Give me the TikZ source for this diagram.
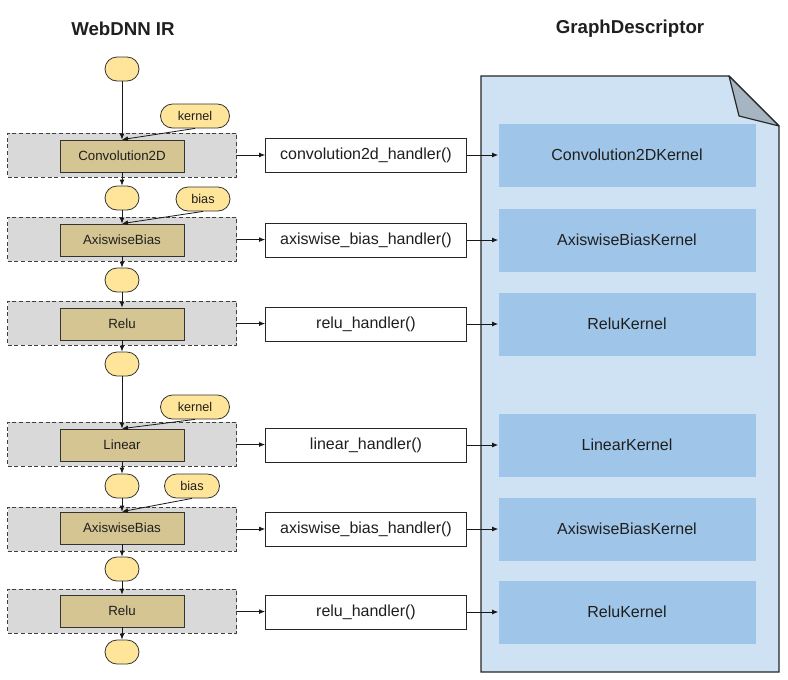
\documentclass[tikz,border=0pt]{standalone}
\usepackage{fontspec}
\setmainfont{Liberation Sans}
\usetikzlibrary{arrows.meta}

\definecolor{tensoryellow}{HTML}{FFE599}
\definecolor{optan}{HTML}{D5C592}
\definecolor{groupgray}{HTML}{D9D9D9}
\definecolor{docblue}{HTML}{CFE2F3}
\definecolor{kernelblue}{HTML}{9FC5E8}
\definecolor{foldgray}{HTML}{A7B5C3}

\begin{document}
\begin{tikzpicture}[x=0.75pt,y=-0.75pt,
  every node/.style={inner sep=0pt, text=black!88},
  title/.style={font=\fontsize{14}{16}\selectfont\bfseries},
  opgroup/.style={draw=black!75, dash pattern=on 3pt off 2pt, line width=0.6pt,
    fill=groupgray, minimum width=171.75pt, minimum height=33pt},
  opbox/.style={draw=black!80, line width=0.6pt, fill=optan,
    minimum width=93pt, minimum height=24pt, font=\fontsize{10}{12}\selectfont},
  tensor/.style={draw=black!80, line width=0.6pt, fill=tensoryellow,
    rounded corners=9pt, minimum width=25.5pt, minimum height=18pt},
  param/.style={draw=black!80, line width=0.6pt, fill=tensoryellow,
    rounded corners=9pt, minimum height=18pt, font=\fontsize{9.5}{11}\selectfont},
  handler/.style={draw=black!85, line width=0.6pt, fill=white,
    minimum width=150.75pt, minimum height=25.5pt, font=\fontsize{12}{14}\selectfont},
  kernel/.style={fill=kernelblue, minimum width=192.75pt, minimum height=47.25pt,
    font=\fontsize{12}{14}\selectfont},
  flow/.style={draw=black!90, line width=0.6pt, -{Latex[length=4.5pt,width=3.6pt]}}]
  \useasboundingbox (0,0) rectangle (788,679);

  % graph descriptor page
  \draw[fill=docblue, draw=black!85, line width=0.9pt]
    (481,76) -- (729,76) -- (779,126) -- (779,672) -- (481,672) -- cycle;
  \draw[fill=foldgray, draw=black!85, line width=0.9pt, line join=round]
    (729,76) -- (739,116) -- (779,126) -- cycle;

  \node[title] (irtitle) at (123,29) {WebDNN IR};
  \node[title] (gdtitle) at (630,29) {GraphDescriptor};

  % operators
  \node[opgroup] (g1) at (122,155) {};
  \node[opgroup] (g2) at (122,239) {};
  \node[opgroup] (g3) at (122,323) {};
  \node[opgroup] (g4) at (122,444) {};
  \node[opgroup] (g5) at (122,529) {};
  \node[opgroup] (g6) at (122,611) {};

  \node[opbox] (op1) at (122,156) {Convolution2D};
  \node[opbox] (op2) at (122,240) {AxiswiseBias};
  \node[opbox] (op3) at (122,324) {Relu};
  \node[opbox] (op4) at (122,445) {Linear};
  \node[opbox] (op5) at (122,528) {AxiswiseBias};
  \node[opbox] (op6) at (122,611) {Relu};

  % variables
  \node[tensor] (t0) at (122,69) {};
  \node[tensor] (t1) at (122,198) {};
  \node[tensor] (t2) at (122,280) {};
  \node[tensor] (t3) at (122,364) {};
  \node[tensor] (t4) at (122,486) {};
  \node[tensor] (t5) at (122,569) {};
  \node[tensor] (t6) at (122,652) {};

  \node[param, minimum width=51.75pt] (w1) at (195,116) {kernel};
  \node[param, minimum width=40.5pt] (b1) at (203,199) {bias};
  \node[param, minimum width=51.75pt] (w2) at (195,407) {kernel};
  \node[param, minimum width=41.25pt] (b2) at (192,486) {bias};

  % handlers and kernels
  \node[handler] (h1) at (366,155) {convolution2d\_handler()};
  \node[handler] (h2) at (366,240) {axiswise\_bias\_handler()};
  \node[handler] (h3) at (366,324) {relu\_handler()};
  \node[handler] (h4) at (366,445) {linear\_handler()};
  \node[handler] (h5) at (366,529) {axiswise\_bias\_handler()};
  \node[handler] (h6) at (366,612) {relu\_handler()};

  \node[kernel] (k1) at (627,155) {Convolution2DKernel};
  \node[kernel] (k2) at (627,240) {AxiswiseBiasKernel};
  \node[kernel] (k3) at (627,324) {ReluKernel};
  \node[kernel] (k4) at (627,445) {LinearKernel};
  \node[kernel] (k5) at (627,529) {AxiswiseBiasKernel};
  \node[kernel] (k6) at (627,612) {ReluKernel};

  % data flow
  \draw[flow] (t0) -- (op1);
  \draw[flow] (w1.south) -- (op1.north);
  \draw[flow] (op1) -- (t1);
  \draw[flow] (t1) -- (op2);
  \draw[flow] (b1.south) -- (op2.north);
  \draw[flow] (op2) -- (t2);
  \draw[flow] (t2) -- (op3);
  \draw[flow] (op3) -- (t3);
  \draw[flow] (t3) -- (op4);
  \draw[flow] (w2.south) -- (op4.north);
  \draw[flow] (op4) -- (t4);
  \draw[flow] (t4) -- (op5);
  \draw[flow] (b2.south) -- (op5.north);
  \draw[flow] (op5) -- (t5);
  \draw[flow] (t5) -- (op6);
  \draw[flow] (op6) -- (t6);

  \draw[flow] (g1) -- (h1);
  \draw[flow] (g2) -- (h2);
  \draw[flow] (g3) -- (h3);
  \draw[flow] (g4) -- (h4);
  \draw[flow] (g5) -- (h5);
  \draw[flow] (g6) -- (h6);

  \draw[flow] (h1) -- (k1);
  \draw[flow] (h2) -- (k2);
  \draw[flow] (h3) -- (k3);
  \draw[flow] (h4) -- (k4);
  \draw[flow] (h5) -- (k5);
  \draw[flow] (h6) -- (k6);
\end{tikzpicture}
\end{document}
